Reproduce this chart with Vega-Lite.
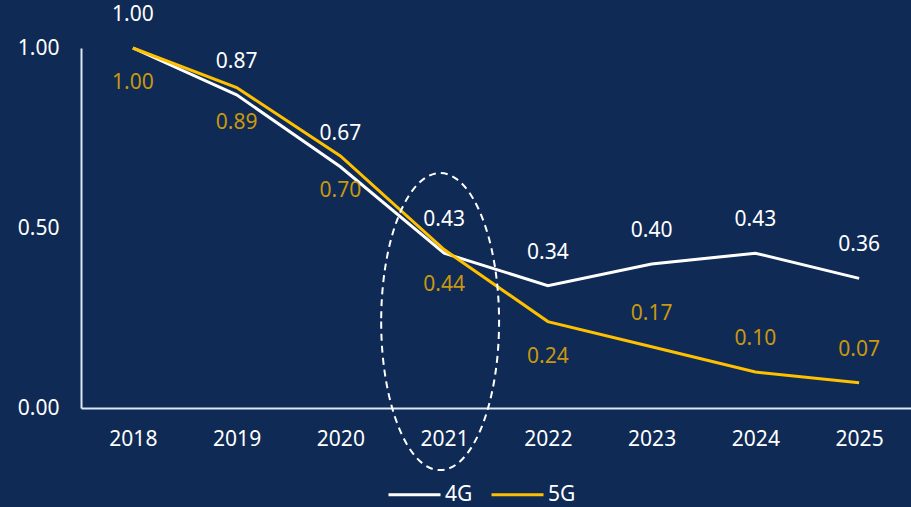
{
  "$schema": "https://vega.github.io/schema/vega-lite/v6.json",
  "width": 830,
  "height": 360,
  "autosize": {"type": "none"},
  "padding": {"left": 81, "top": 48, "right": 0, "bottom": 99},
  "background": "#0f2a55",
  "config": {
    "view": {"stroke": null},
    "font": "Noto Sans",
    "axis": {"labelFont": "Noto Sans", "labelFontSize": 21, "labelColor": "#ffffff", "grid": false, "ticks": false, "domainColor": "#dce8f6", "domainWidth": 2, "title": null},
    "legend": {"labelFont": "Noto Sans"}
  },
  "datasets": {
    "main": [
      {"year": "2018", "series": "4G", "value": 1.00},
      {"year": "2019", "series": "4G", "value": 0.87},
      {"year": "2020", "series": "4G", "value": 0.67},
      {"year": "2021", "series": "4G", "value": 0.43},
      {"year": "2022", "series": "4G", "value": 0.34},
      {"year": "2023", "series": "4G", "value": 0.40},
      {"year": "2024", "series": "4G", "value": 0.43},
      {"year": "2025", "series": "4G", "value": 0.36},
      {"year": "2018", "series": "5G", "value": 1.00},
      {"year": "2019", "series": "5G", "value": 0.89},
      {"year": "2020", "series": "5G", "value": 0.70},
      {"year": "2021", "series": "5G", "value": 0.44},
      {"year": "2022", "series": "5G", "value": 0.24},
      {"year": "2023", "series": "5G", "value": 0.17},
      {"year": "2024", "series": "5G", "value": 0.10},
      {"year": "2025", "series": "5G", "value": 0.07}
    ],
    "highlight": [
      {"year": "2021", "value": 0.24}
    ]
  },
  "data": {"name": "main"},
  "encoding": {
    "x": {"field": "year", "type": "nominal", "scale": {"type": "point", "padding": 0.5}, "axis": {"labelAngle": 0, "labelPadding": 20}},
    "y": {"field": "value", "type": "quantitative", "scale": {"domain": [0, 1], "nice": false}, "axis": {"values": [0, 0.5, 1], "format": ".2f", "labelPadding": 22}}
  },
  "layer": [
    {
      "mark": {"type": "line", "strokeWidth": 3},
      "encoding": {
        "color": {"field": "series", "type": "nominal", "scale": {"domain": ["4G", "5G"], "range": ["#ffffff", "#ffc000"]},
          "legend": {"title": null, "orient": "none", "legendX": 306, "legendY": 419, "direction": "horizontal", "symbolType": "stroke", "symbolSize": 2704, "symbolStrokeWidth": 3, "labelColor": "#ffffff", "labelFontSize": 21, "labelOffset": 3, "columnPadding": 12}},
        "order": {"field": "series"}
      }
    },
    {
      "transform": [{"filter": "datum.series === '4G'"}],
      "mark": {"type": "text", "dy": -33, "fontSize": 21, "color": "#ffffff"},
      "encoding": {"text": {"field": "value", "type": "quantitative", "format": ".2f"}}
    },
    {
      "transform": [{"filter": "datum.series === '5G' && datum.year >= '2023'"}],
      "mark": {"type": "text", "dy": -33, "fontSize": 21, "color": "#c9980e"},
      "encoding": {"text": {"field": "value", "type": "quantitative", "format": ".2f"}}
    },
    {
      "transform": [{"filter": "datum.series === '5G' && datum.year < '2023'"}],
      "mark": {"type": "text", "dy": 35, "fontSize": 21, "color": "#c9980e"},
      "encoding": {"text": {"field": "value", "type": "quantitative", "format": ".2f"}}
    },
    {
      "data": {"name": "highlight"},
      "mark": {"type": "point", "shape": "M -0.397 0 A 0.397 1 0 1 0 0.397 0 A 0.397 1 0 1 0 -0.397 0 Z", "size": 88209, "filled": false, "stroke": "#ffffff", "strokeWidth": 2, "strokeDash": [7, 5], "opacity": 1, "xOffset": -4}
    }
  ]
}
